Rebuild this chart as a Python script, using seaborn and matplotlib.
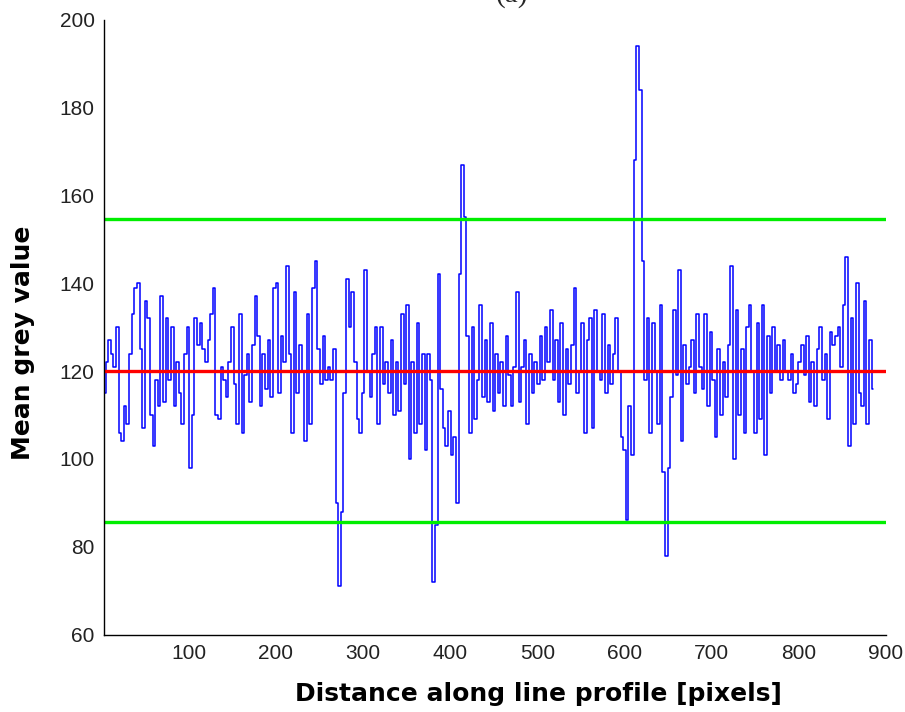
import numpy as np
import pandas as pd
import seaborn as sns
import matplotlib.pyplot as plt

# mean grey value sampled every 3 px along the profile (x = 3, 6, ..., 885)
grey = [
    115, 122, 127, 124, 121, 130, 106, 104, 112, 108,
    124, 133, 139, 140, 125, 107, 136, 132, 110, 103,
    118, 112, 137, 113, 132, 118, 130, 112, 122, 115,
    108, 124, 130, 98, 110, 132, 126, 131, 125, 122,
    127, 133, 139, 110, 109, 121, 118, 114, 122, 130,
    117, 108, 133, 106, 119, 124, 113, 126, 137, 128,
    112, 124, 116, 127, 114, 139, 140, 115, 128, 122,
    144, 124, 106, 138, 115, 126, 120, 104, 133, 108,
    139, 145, 125, 117, 128, 118, 121, 118, 125, 90,
    71, 88, 115, 141, 130, 138, 122, 109, 106, 115,
    143, 120, 114, 124, 130, 108, 130, 117, 122, 115,
    127, 110, 122, 111, 133, 117, 135, 100, 122, 106,
    131, 108, 124, 102, 124, 118, 72, 85, 142, 116,
    107, 103, 111, 101, 105, 90, 142, 167, 155, 128,
    106, 130, 109, 118, 135, 114, 127, 113, 131, 111,
    124, 115, 122, 112, 128, 119, 112, 121, 138, 113,
    121, 127, 108, 124, 115, 122, 117, 128, 118, 130,
    122, 134, 118, 127, 113, 131, 110, 125, 117, 126,
    139, 115, 120, 131, 106, 127, 132, 107, 134, 120,
    118, 133, 115, 126, 117, 124, 132, 120, 105, 102,
    86, 112, 101, 168, 194, 184, 145, 118, 132, 106,
    131, 120, 108, 135, 97, 78, 98, 114, 134, 119,
    143, 104, 126, 117, 121, 127, 115, 133, 121, 116,
    133, 112, 129, 118, 105, 125, 110, 122, 114, 126,
    144, 100, 134, 110, 125, 106, 130, 135, 120, 106,
    131, 109, 135, 101, 128, 115, 130, 120, 126, 118,
    127, 120, 118, 124, 115, 117, 122, 126, 119, 128,
    113, 122, 112, 125, 130, 118, 124, 109, 129, 126,
    128, 130, 121, 135, 146, 103, 132, 108, 140, 115,
    112, 136, 108, 127, 116,
]
distance = np.arange(3, 3 * len(grey) + 1, 3)

mean_level = 120.1
upper_limit = 154.6
lower_limit = 85.6

df = pd.DataFrame({'distance': distance, 'grey': grey})

sns.set_style('white')
fig = plt.figure(figsize=(9.05, 7.12), dpi=100)
ax = fig.add_axes([0.1152, 0.1086, 0.8638, 0.8638])

sns.lineplot(data=df, x='distance', y='grey', color='#0000ff', linewidth=1.1,
             drawstyle='steps-mid', ax=ax)
ax.axhline(mean_level, color='#ff0000', linewidth=2.4)
ax.axhline(upper_limit, color='#00ee00', linewidth=2.4)
ax.axhline(lower_limit, color='#00ee00', linewidth=2.4)

ax.set_xlim(3, 900)
ax.set_ylim(60, 200)
ax.set_xticks(range(100, 901, 100))
ax.set_yticks(range(60, 201, 20))
sns.despine(ax=ax)
for s in ['left', 'bottom']:
    ax.spines[s].set_color('black')
    ax.spines[s].set_linewidth(1.0)
ax.tick_params(direction='in', length=6, width=1, color='black', pad=7)
for lab in ax.get_xticklabels() + ax.get_yticklabels():
    lab.set_fontfamily('Liberation Sans')
    lab.set_fontsize(15)
    lab.set_color('#222222')

ax.set_xlabel('Distance along line profile [pixels]', fontsize=18, fontweight='bold',
              fontfamily='DejaVu Sans', color='black')
ax.set_ylabel('Mean grey value', fontsize=18, fontweight='bold', fontfamily='DejaVu Sans',
              color='black')
ax.xaxis.set_label_coords(0.555, -0.077)
ax.yaxis.set_label_coords(-0.089, 0.474)

fig.text(512 / 905, 1 - 1.5 / 712, '(a)', ha='center', va='baseline', fontsize=21,
         fontfamily='Liberation Serif')

fig.savefig('out.png', dpi=100)
